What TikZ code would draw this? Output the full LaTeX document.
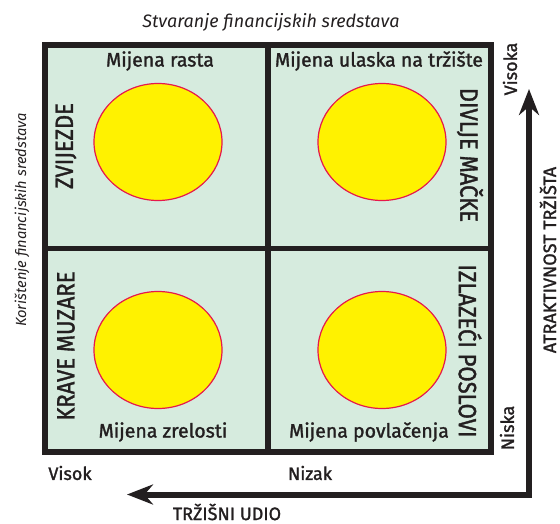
\documentclass[tikz,border=0pt]{standalone}
\usepackage{fontspec}
\setmainfont{Fira Sans}
\newfontfamily\srednji[FakeBold=1.4]{Fira Sans}
\newfontfamily\uski[FakeBold=1.4,FakeStretch=0.88]{Fira Sans}
\usetikzlibrary{arrows.meta,shapes.geometric}
\definecolor{polje}{HTML}{D6EBDE}
\definecolor{sunce}{HTML}{FFF200}
\definecolor{rub}{HTML}{E6194B}
\definecolor{crna}{HTML}{231F20}

\begin{document}
\begin{tikzpicture}[x=1pt,y=-1pt]
\tikzset{krug/.style={draw=rub, fill=sunce, ellipse, line width=1.2pt, minimum width=128pt, minimum height=117pt},
mijena/.style={font=\srednji\fontsize{19.5}{19.5}\selectfont, text=crna},
skupina/.style={font=\uski\fontsize{25}{25}\selectfont, text=crna},
os/.style={font=\srednji\fontsize{18}{18}\selectfont, text=crna},
strelica/.style={line width=6pt, draw=crna, line join=miter, {Stealth[length=26pt,width=20pt]}-{Stealth[length=26pt,width=20pt]}}}
\useasboundingbox (0,0) rectangle (560,524);
\node[draw=crna, fill=polje, line width=5.5pt, minimum width=446pt, minimum height=407pt] (okvir) at (268,248.5) {};
\draw[draw=crna, line width=5.5pt] (okvir.north) -- (okvir.south);
\draw[draw=crna, line width=5.5pt] (okvir.west) -- (okvir.east);
\node[krug] (K1) at (158,142) {};
\node[krug] (K2) at (382,142) {};
\node[krug] (K3) at (158,350) {};
\node[krug] (K4) at (382,350) {};
\node[mijena] (M1) at (160,61) {Mijena rasta};
\node[mijena] (M2) at (379,61) {Mijena ulaska na tržište};
\node[mijena] (M3) at (163,432) {Mijena zrelosti};
\node[mijena] (M4) at (369,432) {Mijena povlačenja};
\node[skupina, rotate=90] (S1) at (66,146) {ZVIJEZDE};
\node[skupina, rotate=90] (S3) at (66,346) {KRAVE MUZARE};
\node[skupina, rotate=-90] (S2) at (470,155) {DIVLJE MAČKE};
\node[skupina, rotate=-90] (S4) at (470,351) {IZLAZEĆI POSLOVI};
\node[font=\itshape\fontsize{18}{18}\selectfont, text=crna] (stvaranje) at (271,22) {Stvaranje financijskih sredstava};
\node[font=\itshape\fontsize{14.7}{14.7}\selectfont, text=crna, rotate=90] (koristenje) at (22,220) {Korištenje financijskih sredstava};
\coordinate (gore) at (529,89);
\coordinate (kut) at (529,494.5);
\coordinate (lijevo) at (127,494.5);
\draw[strelica] (gore) -- (kut) -- (lijevo);
\node[os, rotate=90] (visoka) at (510,69) {Visoka};
\node[os, rotate=90] (niska) at (507,428) {Niska};
\node[os, rotate=90, inner sep=1pt] (atraktivnost) at (548,260) {ATRAKTIVNOST TRŽIŠTA};
\node[os] (visok) at (70,473) {Visok};
\node[os] (nizak) at (310,473) {Nizak};
\node[os, inner sep=1pt] (udio) at (227,512) {TRŽIŠNI UDIO};
\end{tikzpicture}
\end{document}
